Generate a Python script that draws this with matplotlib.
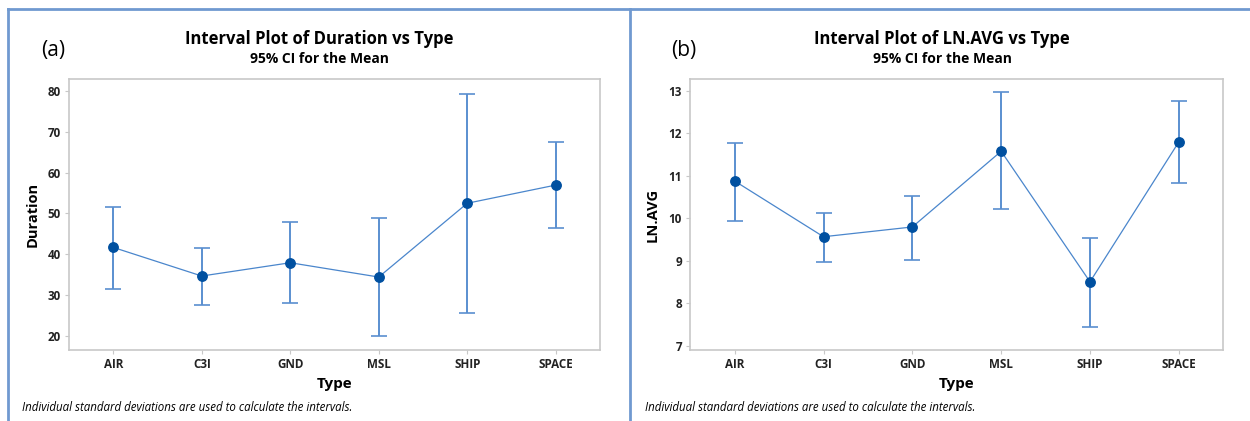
import numpy as np
import matplotlib.pyplot as plt
from matplotlib.lines import Line2D

plt.rcParams['font.family'] = ['Open Sans', 'DejaVu Sans']

types = ['AIR', 'C3I', 'GND', 'MSL', 'SHIP', 'SPACE']

# panel (a): Duration, mean and 95% CI bounds
dur_mean = [41.7, 34.7, 37.95, 34.45, 52.5, 56.95]
dur_low = [31.6, 27.6, 28.0, 20.0, 25.6, 46.5]
dur_high = [51.5, 41.6, 48.0, 48.9, 79.3, 67.4]

# panel (b): LN.AVG, mean and 95% CI bounds
ln_mean = [10.88, 9.57, 9.80, 11.58, 8.51, 11.80]
ln_low = [9.95, 8.98, 9.03, 10.22, 7.44, 10.83]
ln_high = [11.77, 10.12, 10.52, 12.97, 9.55, 12.77]

point_col = '#0050a0'
bar_col = '#5a8fd0'
line_col = '#4a86cc'
frame_col = '#c8c8c8'
border_col = '#7099d0'

fig = plt.figure(figsize=(12.5, 4.21), dpi=100)


def interval_plot(ax, mean, low, high, ylabel, yticks, ylim):
    x = np.arange(len(types))
    mean = np.array(mean)
    err = [mean - np.array(low), np.array(high) - mean]
    ax.errorbar(x, mean, yerr=err, fmt='none', ecolor=bar_col, elinewidth=1.4,
                capsize=5.8, capthick=1.2)
    ax.plot(x, mean, color=line_col, lw=0.9)
    ax.plot(x, mean, 'o', color=point_col, ms=6.8)
    ax.set_xlim(-0.5, 5.5)
    ax.set_ylim(*ylim)
    ax.set_xticks(x)
    ax.set_xticklabels(types)
    ax.set_yticks(yticks)
    for s in ax.spines.values():
        s.set_color(frame_col)
        s.set_linewidth(1.2)
    ax.tick_params(length=3, width=0.8, color=frame_col, labelsize=8.4,
                   labelcolor='#222222', pad=3)
    for lab in ax.get_xticklabels() + ax.get_yticklabels():
        lab.set_fontweight('bold')
    ax.set_ylabel(ylabel, fontsize=10.5, fontweight='bold', labelpad=6)
    ax.set_xlabel('Type', fontsize=11, fontweight='bold', labelpad=4)


ax1 = fig.add_axes([0.0552, 0.1686, 0.4248, 0.6438])
interval_plot(ax1, dur_mean, dur_low, dur_high, 'Duration',
              [20, 30, 40, 50, 60, 70, 80], (16.6, 82.9))

ax2 = fig.add_axes([0.5522, 0.1686, 0.4264, 0.6438])
interval_plot(ax2, ln_mean, ln_low, ln_high, 'LN.AVG',
              [7, 8, 9, 10, 11, 12, 13], (6.906, 13.28))

# titles and notes
for cx, name in [(0.2552, 'Duration'), (0.7536, 'LN.AVG')]:
    fig.text(cx, 0.907, f'Interval Plot of {name} vs Type', ha='center',
             va='center', fontsize=12, fontweight='bold')
    fig.text(cx, 0.860, '95% CI for the Mean', ha='center', va='center',
             fontsize=10, fontweight='bold')
fig.text(0.0424, 0.881, '(a)', ha='center', va='center', fontsize=15)
fig.text(0.547, 0.881, '(b)', ha='center', va='center', fontsize=15)

note = 'Individual standard deviations are used to calculate the intervals.'
fig.text(0.0176, 0.031, note, ha='left', va='center', fontsize=8.3, style='italic')
fig.text(0.516, 0.031, note, ha='left', va='center', fontsize=8.3, style='italic')

# panel borders
fig.add_artist(Line2D([0.006, 1.0], [0.979, 0.979], color=border_col, lw=2))
fig.add_artist(Line2D([0.006, 0.006], [0.0, 0.979], color=border_col, lw=2))
fig.add_artist(Line2D([0.5042, 0.5042], [0.0, 0.979], color=border_col, lw=2))

fig.savefig('out.png', dpi=100)
